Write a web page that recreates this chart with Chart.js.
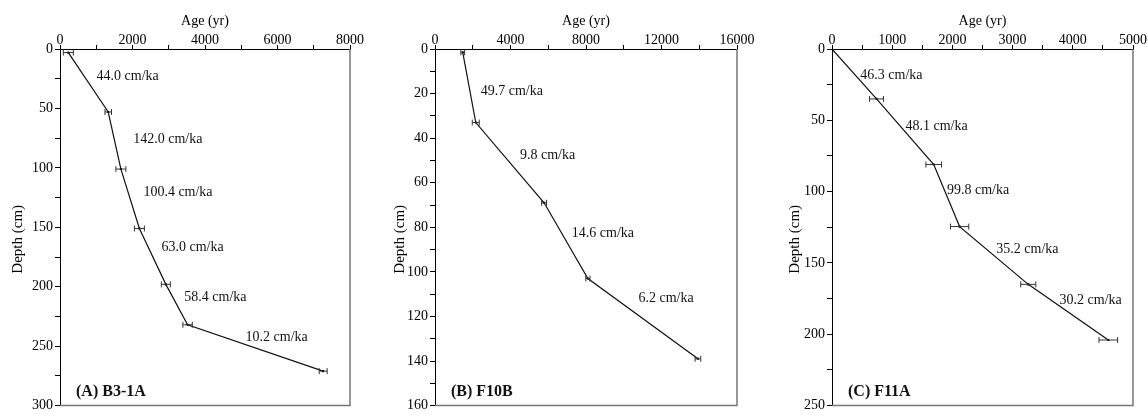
<!DOCTYPE html>
<html>
<head>
<meta charset="utf-8">
<script src="https://cdn.jsdelivr.net/npm/chart.js@4.4.1/dist/chart.umd.min.js"></script>
<style>
    body { margin: 0; background: #fff; }
    #wrap { position: relative; width: 1148px; height: 416px; }
    canvas { position: absolute; top: 0; }
</style>
</head>
<body>
<div id="wrap">
    <canvas id="chartA" width="380" height="416" style="left:0px"></canvas>
    <canvas id="chartB" width="380" height="416" style="left:380px"></canvas>
    <canvas id="chartC" width="388" height="416" style="left:760px"></canvas>
</div>
<script>
// (A) B3-1A
const agesA = [230, 1330, 1680, 2190, 2920, 3520, 7260];
const depthsA = [3, 53, 101, 151, 198, 232, 271];
const errA = [138, 90, 138, 138, 124, 130, 110];
const ratesA = ['44.0 cm/ka', '142.0 cm/ka', '100.4 cm/ka', '63.0 cm/ka', '58.4 cm/ka', '10.2 cm/ka'];
const rateAtA = [[1010, 21], [2020, 74], [2300, 119], [2800, 165], [3430, 207], [5120, 241]];

// (B) F10B
const agesB = [1470, 2160, 5780, 8100, 13930];
const depthsB = [1.5, 33, 69, 103, 139];
const errB = [100, 185, 130, 110, 150];
const ratesB = ['49.7 cm/ka', '9.8 cm/ka', '14.6 cm/ka', '6.2 cm/ka'];
const rateAtB = [[2420, 18], [4500, 47], [7250, 82], [10780, 111]];

// (C) F11A
const agesC = [0, 740, 1690, 2120, 3260, 4590];
const depthsC = [0, 35, 81, 124.5, 165, 204];
const errC = [0, 116, 130, 152, 125, 155];
const ratesC = ['46.3 cm/ka', '48.1 cm/ka', '99.8 cm/ka', '35.2 cm/ka', '30.2 cm/ka'];
const rateAtC = [[470, 17], [1220, 53], [1910, 98], [2730, 139], [3780, 175]];

const FONT = '"Liberation Serif", "Times New Roman", serif';
Chart.defaults.color = '#000';
Chart.defaults.font.family = FONT;
Chart.defaults.font.size = 14;

// 误差棒、速率标注、纵轴标题、外框
const agePlugin = {
    id: 'agePlugin',
    afterDatasetsDraw(chart, args, opts) {
        const ctx = chart.ctx;
        const xs = chart.scales.x, ys = chart.scales.y;
        const area = chart.chartArea;
        ctx.save();
        // 误差棒
        ctx.strokeStyle = '#333';
        ctx.lineWidth = 1;
        opts.ages.forEach((a, i) => {
            const e = opts.errs[i];
            if (!e) return;
            const x1 = xs.getPixelForValue(a - e), x2 = xs.getPixelForValue(a + e);
            const y = ys.getPixelForValue(opts.depths[i]);
            ctx.beginPath();
            ctx.moveTo(x1, y); ctx.lineTo(x2, y);
            ctx.moveTo(x1, y - 3); ctx.lineTo(x1, y + 3);
            ctx.moveTo(x2, y - 3); ctx.lineTo(x2, y + 3);
            ctx.stroke();
        });
        // 标注文字
        ctx.fillStyle = '#111';
        ctx.textBaseline = 'middle';
        ctx.textAlign = 'left';
        ctx.font = '14px ' + FONT;
        opts.rates.forEach((t, i) => {
            const p = opts.rateAt[i];
            ctx.fillText(t, xs.getPixelForValue(p[0]), ys.getPixelForValue(p[1]) + 2);
        });
        ctx.font = 'bold 16px ' + FONT;
        ctx.fillText(opts.label, area.left + 16, area.bottom - 14);
        // 纵轴标题
        ctx.font = '15px ' + FONT;
        ctx.fillStyle = '#000';
        ctx.translate(opts.yTitleX, (area.top + area.bottom) / 2 + 12);
        ctx.rotate(-Math.PI / 2);
        ctx.textAlign = 'center';
        ctx.fillText('Depth (cm)', 0, 0);
        ctx.setTransform(1, 0, 0, 1, 0, 0);
        // 右、下边框
        ctx.strokeStyle = '#777';
        ctx.lineWidth = 1.5;
        ctx.beginPath();
        ctx.moveTo(area.left, area.bottom); ctx.lineTo(area.right, area.bottom);
        ctx.lineTo(area.right, area.top);
        ctx.stroke();
        ctx.restore();
    }
};

function makePanel(id, ages, depths, errs, rates, rateAt, cfg) {
    const ctx = document.getElementById(id).getContext('2d');
    new Chart(ctx, {
        type: 'scatter',
        data: {
            datasets: [{
                data: ages.map((a, i) => ({x: a, y: depths[i]})),
                showLine: true,
                borderColor: '#111',
                borderWidth: 1.2,
                backgroundColor: '#000',
                pointStyle: 'rect',
                pointRadius: ages.map(a => a === 0 ? 0 : 1.5),
                pointBorderWidth: 0
            }]
        },
        options: {
            responsive: false,
            animation: false,
            layout: { padding: { left: 0, right: cfg.rightPad, top: 0, bottom: 5 } },
            plugins: {
                legend: { display: false },
                tooltip: { enabled: false },
                agePlugin: { ages, depths, errs, rates, rateAt, label: cfg.label, yTitleX: cfg.yTitleX }
            },
            scales: {
                x: {
                    type: 'linear',
                    position: 'top',
                    min: 0,
                    max: cfg.xMax,
                    afterFit: s => { s.height = 49; },
                    ticks: {
                        stepSize: cfg.xMinor,
                        autoSkip: false,
                        maxRotation: 0,
                        padding: -2,
                        font: { size: 14, lineHeight: 1 },
                        callback: v => v % cfg.xMajor === 0 ? v : ''
                    },
                    grid: { drawOnChartArea: false, drawTicks: true, tickLength: 4, color: '#000' },
                    border: { display: true, color: '#000', width: 1 },
                    title: { display: true, text: 'Age (yr)', font: { size: 14 }, padding: { top: 13, bottom: 0 } }
                },
                y: {
                    type: 'linear',
                    reverse: true,
                    min: 0,
                    max: cfg.yMax,
                    afterFit: s => { s.width = cfg.yWidth; },
                    ticks: {
                        stepSize: cfg.yMinor,
                        autoSkip: false,
                        padding: 2,
                        callback: v => v % cfg.yMajor === 0 ? v : ''
                    },
                    grid: { drawOnChartArea: false, drawTicks: true, tickLength: 5, color: '#000' },
                    border: { display: true, color: '#000', width: 1 },
                    title: { display: false }
                }
            }
        },
        plugins: [agePlugin]
    });
}

makePanel('chartA', agesA, depthsA, errA, ratesA, rateAtA,
    { xMax: 8000, xMajor: 2000, xMinor: 1000, yMax: 300, yMajor: 50, yMinor: 25,
      yWidth: 60, rightPad: 30, yTitleX: 18, label: '(A) B3-1A' });
makePanel('chartB', agesB, depthsB, errB, ratesB, rateAtB,
    { xMax: 16000, xMajor: 4000, xMinor: 2000, yMax: 160, yMajor: 20, yMinor: 10,
      yWidth: 55, rightPad: 23, yTitleX: 20, label: '(B) F10B' });
makePanel('chartC', agesC, depthsC, errC, ratesC, rateAtC,
    { xMax: 5000, xMajor: 1000, xMinor: 500, yMax: 250, yMajor: 50, yMinor: 25,
      yWidth: 72, rightPad: 15, yTitleX: 35, label: '(C) F11A' });
</script>
</body>
</html>
